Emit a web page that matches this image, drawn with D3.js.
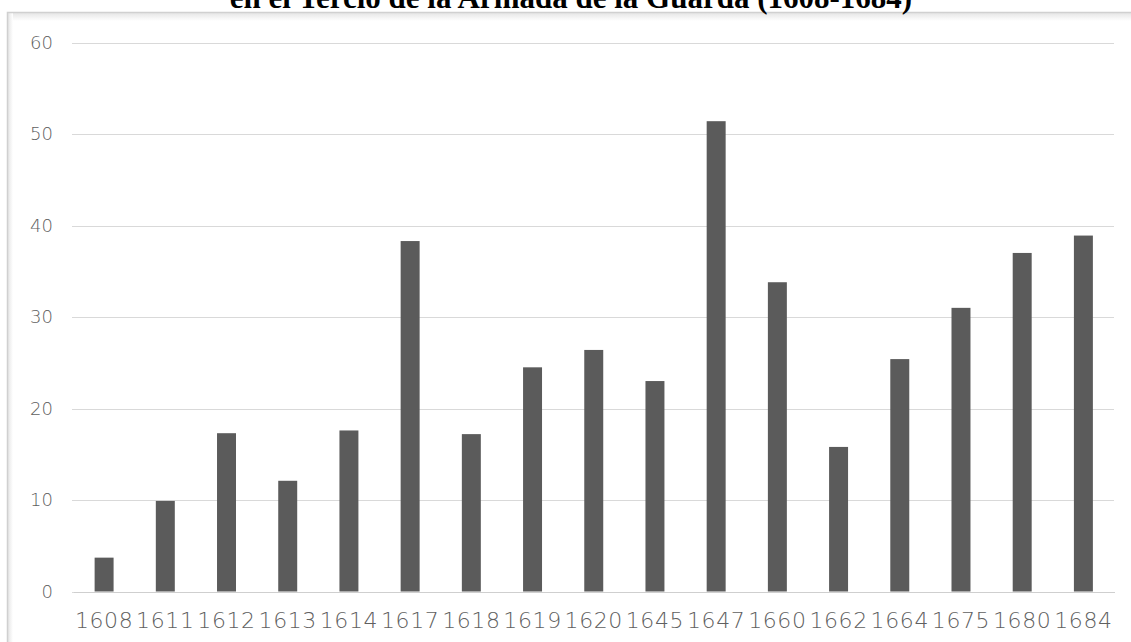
<!DOCTYPE html>
<html>
<head>
<meta charset="utf-8">
<script src="https://cdn.jsdelivr.net/npm/d3@7"></script>
<style>
  html, body { margin: 0; padding: 0; background: #fff; overflow: hidden; }
  svg { display: block; }
</style>
</head>
<body>
<svg id="chart" width="1131" height="642"></svg>
<script>
// Años de revista y porcentaje registrado en cada uno
const years = ["1608","1611","1612","1613","1614","1617","1618","1619","1620","1645","1647","1660","1662","1664","1675","1680","1684"];
const values = [3.7, 9.9, 17.3, 12.1, 17.6, 38.3, 17.2, 24.5, 26.4, 23.0, 51.4, 33.8, 15.8, 25.4, 31.0, 37.0, 38.9];
const yTicks = [0, 10, 20, 30, 40, 50, 60];
const titleText = "en el Tercio de la Armada de la Guarda (1608-1684)";

const svg = d3.select("#chart");

// Sombra suave del marco
const defs = svg.append("defs");
const grad = defs.append("linearGradient").attr("id", "shade").attr("x1", 0).attr("y1", 0).attr("x2", 0).attr("y2", 1);
grad.append("stop").attr("offset", 0).attr("stop-color", "#e6e6e6");
grad.append("stop").attr("offset", 1).attr("stop-color", "#ffffff");
const gradL = defs.append("linearGradient").attr("id", "shadeL").attr("x1", 0).attr("y1", 0).attr("x2", 1).attr("y2", 0);
gradL.append("stop").attr("offset", 0).attr("stop-color", "#e6e6e6");
gradL.append("stop").attr("offset", 1).attr("stop-color", "#ffffff");

svg.append("rect").attr("x", 8).attr("y", 13).attr("width", 1200).attr("height", 8).attr("fill", "url(#shade)");
svg.append("rect").attr("x", 8).attr("y", 13).attr("width", 5).attr("height", 700).attr("fill", "url(#shadeL)");

// Marco del gráfico
svg.append("rect")
  .attr("x", 7.5).attr("y", 12.5)
  .attr("width", 1300).attr("height", 800)
  .attr("fill", "none")
  .attr("stroke", "#d0d0d0")
  .attr("stroke-width", 1.5);

// Título (parte inferior visible)
svg.append("text")
  .attr("x", 571).attr("y", 8)
  .attr("text-anchor", "middle")
  .attr("font-family", "'Liberation Serif', 'Times New Roman', serif")
  .attr("font-weight", "bold")
  .attr("font-size", 31)
  .attr("fill", "#000")
  .text(titleText);

const x = d3.scaleBand().domain(years).range([73.5, 1114]).paddingInner(0.69).paddingOuter(0.345);
const y = d3.scaleLinear().domain([0, 60]).range([591.5, 42.5]);

// Líneas de cuadrícula y etiquetas del eje Y
const yAxis = d3.axisLeft(y).tickValues(yTicks).tickSize(-(1114 - 72)).tickPadding(19).tickFormat(d3.format("d"));
const gy = svg.append("g").attr("transform", "translate(72,0)").call(yAxis);
gy.select(".domain").remove();
gy.selectAll(".tick line").attr("stroke", "#d9d9d9").attr("stroke-width", 1)
  .attr("shape-rendering", "crispEdges");
gy.selectAll(".tick text")
  .attr("font-family", "'DejaVu Sans', Verdana, sans-serif")
  .attr("font-weight", 200)
  .attr("font-size", 18)
  .attr("fill", "#606060");

// Barras
svg.append("g").selectAll("rect")
  .data(years.map((yr, i) => ({ yr, v: values[i] })))
  .join("rect")
  .attr("x", d => x(d.yr))
  .attr("y", d => y(d.v))
  .attr("width", x.bandwidth())
  .attr("height", d => y(0) - y(d.v))
  .attr("fill", "#5b5b5b");

// Eje X
const xAxis = d3.axisBottom(x).tickSize(0).tickPadding(21);
const gx = svg.append("g").attr("transform", "translate(0,591.5)").call(xAxis);
gx.select(".domain").attr("stroke", "#cfcfcf").attr("shape-rendering", "crispEdges");
gx.selectAll(".tick text")
  .attr("font-family", "'DejaVu Sans', Verdana, sans-serif")
  .attr("font-weight", 200)
  .attr("font-size", 22)
  .attr("letter-spacing", 0.6)
  .attr("fill", "#606060");
</script>
</body>
</html>
